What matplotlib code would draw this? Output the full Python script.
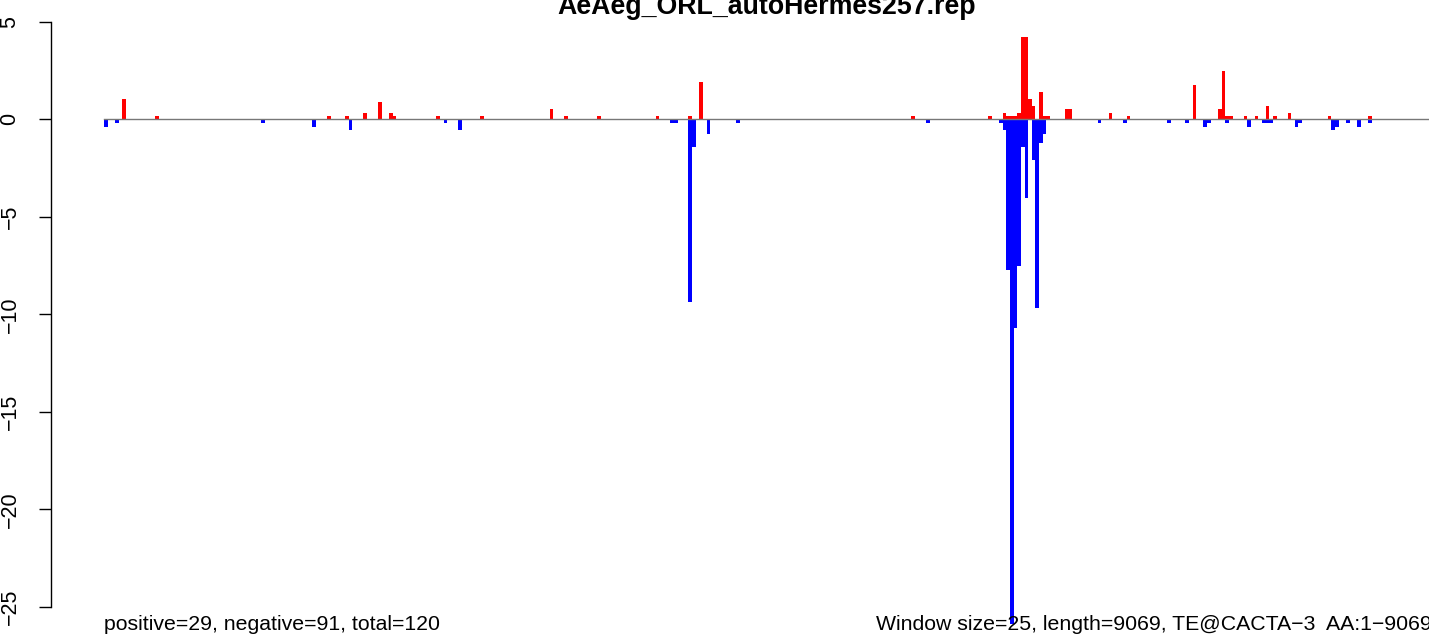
#!/usr/bin/env python3
'''
Strand profile of repeat hits along the TE consensus.
'''
### MODULES ---
import numpy as np
import matplotlib
matplotlib.use('Agg')
import matplotlib.pyplot as plt


### DATA ---
title = 'AeAeg_ORL_autoHermes257.rep'
left_note = 'positive=29, negative=91, total=120'
right_note = 'Window size=25, length=9069, TE@CACTA\u22123  AA:1\u22129069'

n_windows = 363

# windows with hits on the plus strand
pos_idx = [5, 14, 61, 66, 71, 75, 78, 79, 91, 103, 122, 126, 135, 151, 160,
           163, 221, 242, 246, 247, 248, 249, 250, 251, 252, 253, 254, 256,
           257, 258, 263, 264, 275, 280, 298, 305, 306, 307, 308, 312, 315,
           318, 320, 324, 335, 346]
pos_val = [1.04, 0.17, 0.17, 0.17, 0.33, 0.89, 0.33, 0.17, 0.17, 0.17, 0.53,
           0.17, 0.17, 0.17, 0.17, 1.91, 0.17, 0.17, 0.33, 0.17, 0.17, 0.17,
           0.33, 4.22, 4.22, 1.04, 0.68, 1.40, 0.17, 0.17, 0.53, 0.53, 0.33,
           0.17, 1.76, 0.53, 2.48, 0.17, 0.17, 0.17, 0.17, 0.68, 0.17, 0.33,
           0.17, 0.17]

# windows with hits on the minus strand
neg_idx = [0, 3, 43, 57, 67, 93, 97, 155, 156, 160, 161, 165, 173, 225, 245,
           246, 247, 248, 249, 250, 251, 252, 254, 255, 256, 257, 272, 279,
           291, 296, 301, 302, 307, 313, 317, 318, 319, 326, 327, 336, 337,
           340, 343, 346]
neg_val = [-0.38, -0.17, -0.17, -0.38, -0.55, -0.17, -0.55, -0.17, -0.17,
           -9.35, -1.40, -0.73, -0.17, -0.17, -0.17, -0.53, -7.73, -25.9,
           -10.68, -7.52, -1.40, -4.05, -2.09, -9.66, -1.23, -0.75, -0.17,
           -0.17, -0.17, -0.17, -0.38, -0.17, -0.17, -0.38, -0.17, -0.17,
           -0.17, -0.38, -0.17, -0.55, -0.38, -0.17, -0.38, -0.17]

yticks = [5, 0, -5, -10, -15, -20, -25]


### SETUP ---
plt.rcParams['font.family'] = ['Liberation Sans', 'DejaVu Sans']

pos = np.zeros(n_windows)
pos[pos_idx] = pos_val
neg = np.zeros(n_windows)
neg[neg_idx] = neg_val
x = np.arange(n_windows)

W, H = 1429, 635
fig = plt.figure(figsize=(W/100, H/100), dpi=100)

# plot region runs past the right edge of the picture
ax_left, ax_right = 51, 1483
ax = fig.add_axes([ax_left/W, 0, (ax_right - ax_left)/W, 1])

# y scale: 0 sits at 119.3 px from top, 19.5 px per unit
y0_px, px_per_unit = 119.3, 19.5


### PLOT ---
ax.bar(x, pos, width=1, align='edge', color='#ff0000', linewidth=0)
ax.bar(x, neg, width=1, align='edge', color='#0000ff', linewidth=0)
ax.plot([0, n_windows + 20], [0, 0], color='#777777', lw=1.0, zorder=3)

ax.set_xlim(-0.04*n_windows, 1.04*n_windows)
ax.set_ylim(-(H - y0_px)/px_per_unit, y0_px/px_per_unit)

# axis styling like base R
for side in ['top', 'right', 'bottom']:
    ax.spines[side].set_visible(False)
ax.spines['left'].set_bounds(-25, 5)
ax.spines['left'].set_linewidth(1.0)
ax.set_xticks([])
ax.set_yticks(yticks)
ax.set_yticklabels([str(t).replace('-', '\u2212') for t in yticks],
                   rotation=90, va='center', fontsize=15.5)
ax.tick_params(axis='y', length=9, width=1.0, pad=13)
ax.patch.set_alpha(0)

# texts
fig.text(767/W, 1 - 14/H, title, ha='center', va='baseline',
         fontsize=19.3, fontweight='bold')
fig.text(104/W, 1 - 630/H, left_note, ha='left', va='baseline', fontsize=15.3)
fig.text(876/W, 1 - 630/H, right_note, ha='left', va='baseline', fontsize=15.3)

fig.savefig('out.png', dpi=100)
